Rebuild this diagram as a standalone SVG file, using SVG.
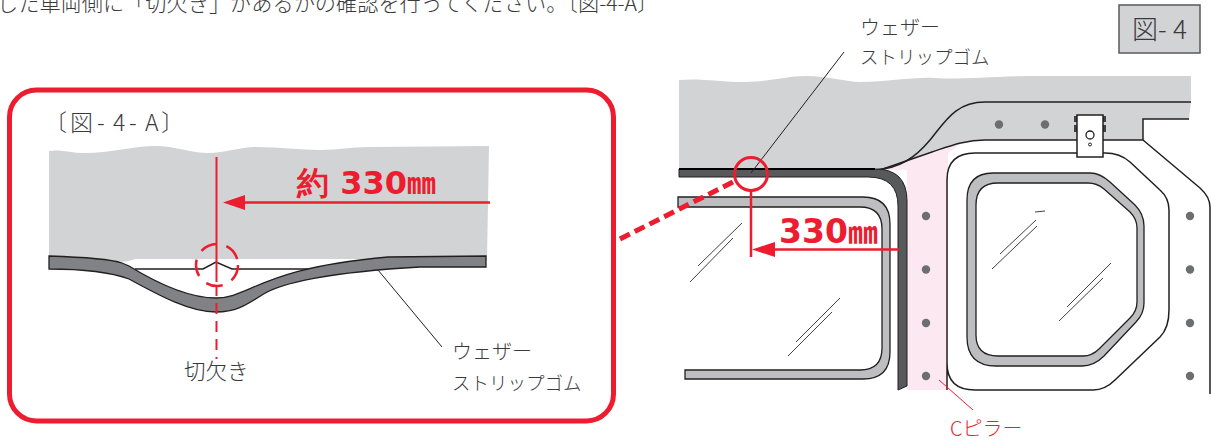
<svg xmlns="http://www.w3.org/2000/svg" width="1211" height="441" viewBox="0 0 1211 441">
<defs><style>
.t{font-family:"Noto Sans CJK JP","Noto Sans",sans-serif;fill:#3a3a3c;font-weight:300}
.r{fill:#ed1c2e}
.ls{stroke:#ed1c2e;fill:none}
.k{stroke:#231f20;fill:none;stroke-width:1.5}
.g{fill:#d1d3d4}
.w{fill:#bcbec0;stroke:#231f20;stroke-width:1.3;fill-rule:evenodd}
.d{fill:#6d6e71}
.gl{stroke:#414042;stroke-width:1;fill:none}
.big{font-family:"DejaVu Sans",sans-serif;font-weight:700}
.mm{font-family:"Noto Sans CJK JP",sans-serif;font-weight:700}
</style></defs>
<rect width="1211" height="441" fill="#fff"/>
<text id="instruction" class="t" x="-3" y="11" font-size="21.2">した車両側に「切欠き」があるかの確認を行ってください。〔図-4-A〕</text>

<g id="detail-frame"><rect x="9.5" y="90" width="604" height="331" rx="27" fill="#fff" stroke="#ed1c2e" stroke-width="5"/></g>
<g id="detail-title"><text class="t" font-size="23" y="131" x="44 70 97 113 129 145 161">〔図-4-A〕</text></g>
<g id="detail-body">
<path class="g" d="M49 151C60 149 70 153 85 153C110 153 135 146 155 146C175 146 190 153 209 153C225 153 240 147 255 147C280 147 300 150 320 150C340 150 350 147 370 147L489 146L487 260L49 262Z"/>
<path fill="#fff" d="M125 262L135 259H392V269H135Z"/>
<path d="M49 256C80 257 110 259 122 263L129 266C160 285 190 298 216 298C250 298 260 268 388 257L486 256V267L420 267C330 272 280 283 262 295C245 306 235 312 216 312C190 312 160 296 129 279C110 272 80 269 49 269Z" fill="#808285" stroke="#231f20" stroke-width="1.3"/>
<path class="k" d="M135 269H203L216 262L232 269H308"/>
</g>
<g id="notch-label"><text class="t" x="184" y="379" font-size="21.5">切欠き</text></g>
<g id="weatherstrip-label-a"><text class="t" x="452" y="359" font-size="20">ウェザー</text><text class="t" x="452" y="390" font-size="18.5">ストリップゴム</text></g>
<g id="measure-a"><text class="r big" x="297" y="194" font-size="32" xml:space="preserve">約 330<tspan class="mm" font-size="29">㎜</tspan></text></g>

<g id="vehicle">
<path fill="#fce8f1" d="M880 170L960 144L948 153V390H907V170Z"/>
<path class="g" d="M679 80C700 78 720 82 745 82C770 82 785 76 805 76C830 76 845 82 860 82C890 82 910 77 935 78C960 80 990 76 1040 76L1191 76V102L1189 119H1143V140H985C960 140 945 148 932 152L880 170H679Z"/>
<path class="k" d="M1191 102H985C955 102 945 122 930 140C915 158 900 168 875 170"/>
<path class="k" d="M880 170L932 152C950 146 965 140 985 140H1143V119H1189"/>
<path class="k" d="M1143 140L1200 188Q1210 197 1210 207V394"/>
<path class="k" d="M947 390V180Q947 153 975 153H1105Q1120 153 1130 162L1160 190Q1169 198 1169 210V310Q1169 328 1160 337L1115 380Q1105 390 1093 390H975Q947 390 947 363Z"/>
<path d="M679 169H875Q907 169 907 201V386L898 390V206Q898 177 868 177H679Z" fill="#58595b" stroke="#231f20" stroke-width="1"/>
<path d="M679 169H875" stroke="#000" stroke-width="2" fill="none"/>
<path class="w" d="M678 197H863Q890 197 890 224V352Q890 379 863 379H685V370H860Q882 370 882 348V229Q882 207 860 207H678Z"/>
<path class="w" d="M993 173H1090Q1100 173 1110 182L1135 205Q1144 214 1144 226V303Q1144 314 1136 322L1104 356Q1094 366 1082 366H996Q967 366 967 337V200Q967 173 993 173ZM998 183Q976 183 976 205V335Q976 356 998 356H1083Q1092 356 1099 349L1130 318Q1137 311 1137 302V228Q1137 219 1130 212L1104 189Q1097 183 1088 183Z"/>
<path class="gl" d="M698 266L742 223M690 282L733 238M796 342L840 298M788 356L832 312M1000 254L1036 220M992 269L1037 226M1067 307L1111 263M1059 321L1103 278M1035 212L1045 211"/>
<g class="d"><circle cx="926" cy="216" r="4.2"/><circle cx="926" cy="269.500" r="4.200"/><circle cx="926" cy="323" r="4.200"/><circle cx="926" cy="376" r="4.200"/><circle cx="1190" cy="216" r="4.200"/><circle cx="1190" cy="269.500" r="4.200"/><circle cx="1190" cy="323" r="4.200"/><circle cx="1190" cy="376" r="4.200"/><circle cx="999" cy="124.500" r="4.200"/><circle cx="1045" cy="124.500" r="4.200"/></g>
</g>
<g id="bracket">
<path fill="#414042" d="M1074 116H1106V122H1074ZM1074 125H1106V132H1074Z"/>
<rect x="1077" y="115" width="26" height="42" fill="#fff" stroke="#231f20" stroke-width="1.500"/>
<circle cx="1090" cy="135" r="4" fill="#fff" stroke="#231f20" stroke-width="1.300"/><circle cx="1090" cy="144.500" r="1.500" fill="#fff" stroke="#231f20"/>
</g>
<g id="figure-badge"><rect x="1119" y="5" width="81" height="48" fill="#d1d3d4" stroke="#58595b" stroke-width="1.500"/><text class="t" font-size="26" y="39" x="1132 1158 1173">図-4</text></g>
<g id="weatherstrip-label-b"><text class="t" x="860" y="35" font-size="20">ウェザー</text><text class="t" x="860" y="64" font-size="18.500">ストリップゴム</text></g>
<g id="pillar-label"><text x="950" y="436" font-size="20" class="r" font-family="'Noto Sans CJK JP',sans-serif" font-weight="300">Cピラー</text></g>
<g id="measure-b"><text class="r big" x="779" y="243" font-size="33">330<tspan class="mm" font-size="30">㎜</tspan></text></g>

<g id="connectors">
<path d="M442 347L378 270M844 52L751 173" stroke="#231f20" stroke-width="1" fill="none"/>
<path class="ls" stroke-width="2" d="M216.500 157V282"/>
<path class="ls" stroke-width="2" d="M216.500 285V359" stroke-dasharray="11 7"/>
<circle class="ls" stroke-width="2.500" cx="217" cy="265" r="21" stroke-dasharray="17 10"/>
<path class="ls" stroke-width="2.500" d="M490 202.500H245"/><path class="r" d="M223 202.500L245 195V210Z"/>
<path class="ls" stroke-width="5" d="M620 239L735 181" stroke-dasharray="11 5.500"/>
<circle class="ls" stroke-width="3" cx="751" cy="174" r="16.500"/>
<path class="ls" stroke-width="2.500" d="M751 190V257"/>
<path class="ls" stroke-width="2.500" d="M899 249.500H775"/><path class="r" d="M752 249.500L775 242V257Z"/>
<path class="ls" stroke-width="1" d="M939 380L973 410"/>
</g>
</svg>
